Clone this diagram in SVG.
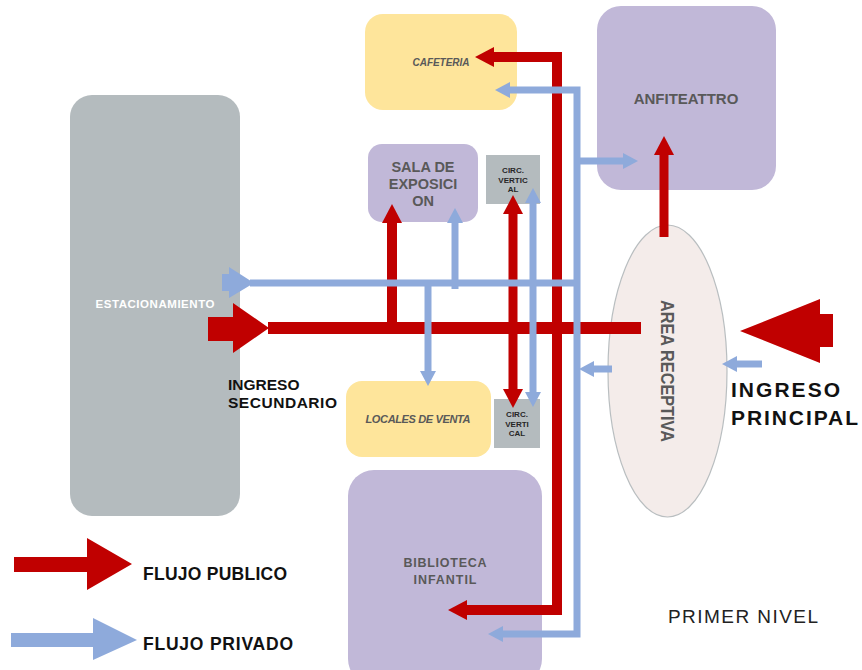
<svg xmlns="http://www.w3.org/2000/svg" width="862" height="670" viewBox="0 0 862 670">
<style>
.lbl{font-family:"Liberation Sans",Arial,sans-serif;font-weight:bold;fill:#595959;text-anchor:middle}
.blk{font-family:"Liberation Sans",Arial,sans-serif;font-weight:bold;fill:#111}
.circ{font-family:"Liberation Sans",Arial,sans-serif;font-weight:bold;fill:#262626;font-size:8px;text-anchor:middle}
.purple{fill:#c1b8d8}
.yellow{fill:#fee59b}
.gray{fill:#b4bbbe}
.red{fill:none;stroke:#c00000}
.blue{fill:none;stroke:#8eaadb}
</style>
<defs>
<marker id="rh" markerUnits="userSpaceOnUse" markerWidth="19" markerHeight="20" refX="0" refY="10" orient="auto-start-reverse" viewBox="0 0 19 20"><path d="M0,0 L19,10 L0,20 z" fill="#c00000"/></marker>
<marker id="bh" markerUnits="userSpaceOnUse" markerWidth="15" markerHeight="16" refX="0" refY="8" orient="auto-start-reverse" viewBox="0 0 15 16"><path d="M0,0 L15,8 L0,16 z" fill="#8eaadb"/></marker>
</defs>
<rect width="862" height="670" fill="#fff"/>

<g id="estacionamiento">
<rect class="gray" x="70" y="95" width="170" height="421" rx="22"/>
<text class="lbl" x="155" y="308" font-size="11.5" textLength="119" style="fill:#fff">ESTACIONAMIENTO</text>
</g>
<g id="cafeteria">
<rect class="yellow" x="365" y="14" width="152" height="96" rx="18"/>
<text x="441" y="66" font-size="10" font-style="italic" font-weight="bold" fill="#595959" text-anchor="middle" font-family="Liberation Sans, Arial, sans-serif" textLength="57">CAFETERIA</text>
</g>
<g id="anfiteatro">
<rect class="purple" x="597" y="6" width="179" height="184" rx="24"/>
<text class="lbl" x="686" y="104" font-size="15">ANFITEATTRO</text>
</g>
<g id="sala">
<rect class="purple" x="368" y="144" width="110" height="78" rx="14"/>
<text class="lbl" x="423" y="172" font-size="14.5">SALA DE</text>
<text class="lbl" x="423" y="189" font-size="14.5">EXPOSICI</text>
<text class="lbl" x="423" y="206" font-size="14.5">ON</text>
</g>
<g id="circ1">
<rect class="gray" x="486" y="155" width="54" height="49"/>
<text class="circ" x="513" y="173">CIRC.</text>
<text class="circ" x="513" y="183">VERTIC</text>
<text class="circ" x="513" y="192">AL</text>
</g>
<g id="locales">
<rect class="yellow" x="346" y="381" width="145" height="76" rx="16"/>
<text x="418" y="423" font-size="11" font-style="italic" font-weight="bold" fill="#595959" text-anchor="middle" font-family="Liberation Sans, Arial, sans-serif" textLength="105">LOCALES DE VENTA</text>
</g>
<g id="circ2">
<rect class="gray" x="494" y="399" width="46" height="49"/>
<text class="circ" x="517" y="417">CIRC.</text>
<text class="circ" x="517" y="427">VERTI</text>
<text class="circ" x="517" y="436">CAL</text>
</g>
<g id="biblioteca">
<rect class="purple" x="348" y="470" width="194" height="215" rx="26"/>
<text class="lbl" x="445" y="567" font-size="12.5" textLength="83">BIBLIOTECA</text>
<text class="lbl" x="445" y="584" font-size="12.5" textLength="63">INFANTIL</text>
</g>
<g id="area-receptiva">
<ellipse cx="667.5" cy="371" rx="59.5" ry="146" fill="#f4ecea" stroke="#b9bec0" stroke-width="1.2"/>
<text class="lbl" x="0" y="0" font-size="18" textLength="142" lengthAdjust="spacingAndGlyphs" transform="translate(660.5,371) rotate(90)">AREA RECEPTIVA</text>
</g>

<g id="connectors">
<!-- public flows (red) -->
<path class="red" d="M268,328 H641" stroke-width="12"/>
<polygon points="208,317 233,317 233,303 269,328 233,353 233,341 208,341" fill="#c00000"/>
<path class="red" d="M467,610 H557 V57 H494" stroke-width="10" marker-start="url(#rh)" marker-end="url(#rh)"/>
<path class="red" d="M392,328 V223" stroke-width="10" marker-end="url(#rh)"/>
<path class="red" d="M513,214 V389" stroke-width="9" marker-start="url(#rh)" marker-end="url(#rh)"/>
<path class="red" d="M664,237 V155" stroke-width="9" marker-end="url(#rh)"/>
<polygon points="740,331 820,299 820,314 833,314 833,347 820,347 820,363" fill="#c00000"/>
<!-- private flows (blue) -->
<polygon points="222,274 229,274 229,267 254,283 229,298 229,291 222,291" fill="#8eaadb"/>
<path class="blue" d="M250,283 H580" stroke-width="7"/>
<path class="blue" d="M510,90 H577 V634 H503" stroke-width="7" marker-start="url(#bh)" marker-end="url(#bh)"/>
<path class="blue" d="M577,161 H623" stroke-width="7" marker-end="url(#bh)"/>
<path class="blue" d="M455,289 V223" stroke-width="7" marker-end="url(#bh)"/>
<path class="blue" d="M428,283 V371" stroke-width="7" marker-end="url(#bh)"/>
<path class="blue" d="M533,203 V392" stroke-width="7" marker-start="url(#bh)" marker-end="url(#bh)"/>
<path class="blue" d="M612,369 H594" stroke-width="7" marker-end="url(#bh)"/>
<path class="blue" d="M762,364 H737" stroke-width="7" marker-end="url(#bh)"/>
</g>

<g id="labels">
<text class="blk" x="228" y="390" font-size="15.5">INGRESO</text>
<text class="blk" x="228" y="408" font-size="15.5" textLength="109">SECUNDARIO</text>
<text class="blk" x="731" y="397" font-size="21" textLength="109">INGRESO</text>
<text class="blk" x="731" y="425" font-size="21" textLength="127">PRINCIPAL</text>
<text x="668" y="623" font-size="19" fill="#222" font-family="Liberation Sans, Arial, sans-serif" textLength="150">PRIMER NIVEL</text>
</g>

<g id="legend">
<polygon points="14,557 87,557 87,538 132,564 87,590 87,572 14,572" fill="#c00000"/>
<text class="blk" x="143" y="580" font-size="17.5" textLength="144">FLUJO PUBLICO</text>
<polygon points="11,633 93,633 93,618 137,640 93,660 93,647 11,647" fill="#8eaadb"/>
<text class="blk" x="143" y="650" font-size="17.5" textLength="150">FLUJO PRIVADO</text>
</g>
</svg>
